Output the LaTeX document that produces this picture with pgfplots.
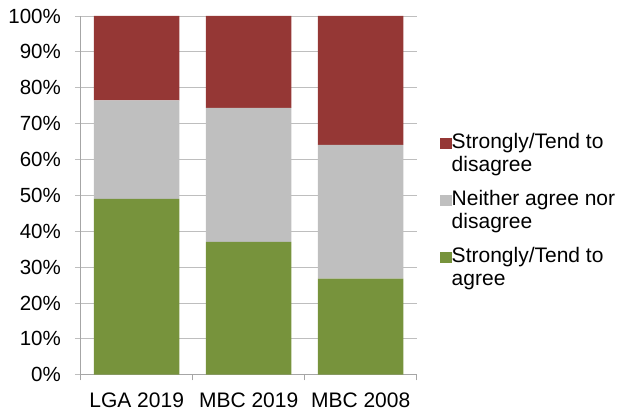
\documentclass[border=0pt]{standalone}
\usepackage{fontspec}
\setmainfont{Liberation Sans}
\usepackage{pgfplots}
\pgfplotsset{compat=1.18}
\definecolor{cRed}{HTML}{953735}
\definecolor{cGray}{HTML}{BFBFBF}
\definecolor{cGreen}{HTML}{77933C}
\definecolor{cGrid}{HTML}{BEBEBE}
\definecolor{cAxis}{HTML}{A6A6A6}
\begin{document}
\begin{tikzpicture}
\begin{axis}[
  scale only axis, width=336pt, height=358.7pt,
  ybar stacked, bar width=85.6pt,
  xmin=-0.5, xmax=2.5, ymin=0, ymax=100,
  axis x line*=bottom, axis y line*=left,
  axis line style={color=cAxis, line width=0.8pt},
  xtick={-0.5,0.5,1.5,2.5}, x tick label as interval,
  xticklabels={LGA 2019, MBC 2019, MBC 2008},
  ytick={0,10,...,100},
  yticklabel={\pgfmathprintnumber{\tick}\%},
  ymajorgrids, grid style={color=cGrid, line width=0.8pt},
  tick align=outside, major tick length=5.7pt,
  x tick style={color=cAxis, line width=0.8pt},
  y tick style={color=cGrid, line width=0.8pt},
  yticklabel style={font=\fontsize{20.5}{23}\selectfont, text=black, inner sep=0pt, xshift=-14pt},
  xticklabel style={font=\fontsize{21}{23}\selectfont, text=black, inner sep=0pt, yshift=-12pt},
  /pgf/number format/assume math mode=true,
  clip=false,
  reverse legend,
  legend cell align=left,
  legend style={draw=none, fill=none, anchor=north west,
    at={(rel axis cs:1.068,0.673)}, inner sep=0pt,
    row sep=17pt,
    /tikz/every even column/.append style={column sep=5pt},
    nodes={inner sep=0pt, align=left, font=\fontsize{21}{23}\selectfont}},
  legend image code/.code={\fill[#1] (0pt,4pt) rectangle (12pt,15pt);},
]
\addplot[fill=cGreen, draw=none] coordinates {(0,49.0) (1,37.0) (2,26.8)};
\addplot[fill=cGray, draw=none] coordinates {(0,27.5) (1,37.4) (2,37.3)};
\addplot[fill=cRed, draw=none] coordinates {(0,23.5) (1,25.6) (2,35.9)};
\legend{Strongly/Tend to\\agree, Neither agree nor\\disagree, Strongly/Tend to\\disagree}
\end{axis}
\pgfresetboundingbox
\path (-80.7pt,-39.3pt) rectangle (541.3pt,374.7pt);
\end{tikzpicture}
\end{document}
